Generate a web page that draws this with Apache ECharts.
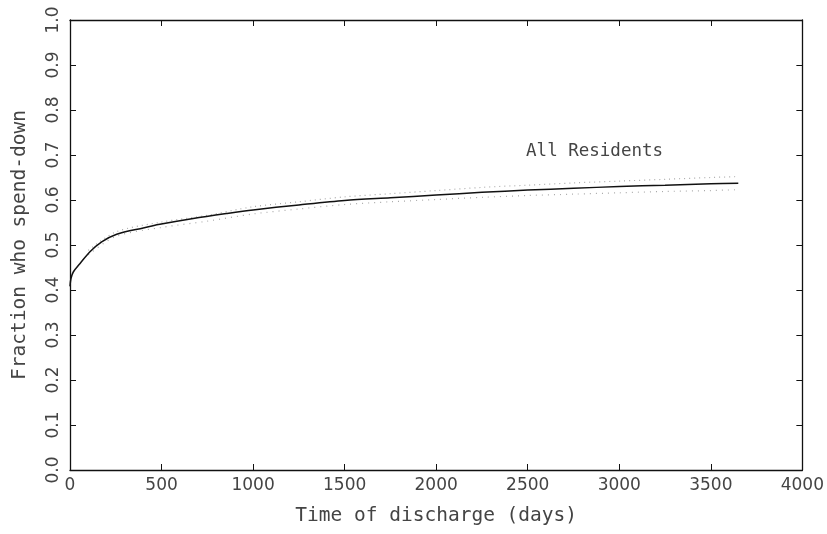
<!DOCTYPE html>
<html>
<head>
<meta charset="utf-8">
<script src="https://cdn.jsdelivr.net/npm/echarts@6/dist/echarts.min.js"></script>
<style>html,body{margin:0;padding:0;background:#fff;}#c{width:827px;height:534px;}</style>
</head>
<body>
<div id="c"></div>
<script>
// Main curve: days and fraction who spend-down
var days = [0, 5, 18, 55, 109, 173, 255, 400, 491, 673, 855, 1000, 1250, 1500, 1750, 2000, 2250, 2500, 2750, 3000, 3250, 3500, 3650];
var fraction = [0.408, 0.425, 0.44, 0.459, 0.485, 0.507, 0.524, 0.538, 0.546, 0.559, 0.570, 0.578, 0.589, 0.599, 0.605, 0.611, 0.617, 0.622, 0.626, 0.630, 0.633, 0.636, 0.637];
// Scatter band around curve (dotted)
var bandDays = [100, 250, 500, 750, 1000, 1250, 1500, 1750, 2000, 2250, 2500, 2750, 3000, 3250, 3500, 3650];
var bandUpper = [0.488, 0.529, 0.551, 0.566, 0.585, 0.596, 0.607, 0.614, 0.621, 0.628, 0.633, 0.638, 0.642, 0.646, 0.650, 0.652];
var bandLower = [0.478, 0.519, 0.539, 0.553, 0.569, 0.580, 0.590, 0.596, 0.601, 0.606, 0.610, 0.613, 0.616, 0.619, 0.621, 0.623];
var xTicks = [0, 500, 1000, 1500, 2000, 2500, 3000, 3500, 4000];
var yTicks = [0.0, 0.1, 0.2, 0.3, 0.4, 0.5, 0.6, 0.7, 0.8, 0.9, 1.0];
var seriesLabel = "All Residents";
var xTitle = "Time of discharge (days)";
var yTitle = "Fraction who spend-down";

function zip(a, b) { return a.map(function (v, i) { return [v, b[i]]; }); }

var chart = echarts.init(document.getElementById('c'));
var tickFont = { fontFamily: 'DejaVu Sans', fontSize: 17, color: '#444' };
var titleFont = { fontFamily: 'DejaVu Sans Mono', fontSize: 19.5, color: '#444' };
var axisLine = { show: true, onZero: false, lineStyle: { color: '#111', width: 1.3 } };
var axisTick = { show: true, inside: true, length: 6, lineStyle: { color: '#111', width: 1 } };

chart.setOption({
  backgroundColor: '#fff',
  animation: false,
  grid: { left: 70, right: 24, top: 20, bottom: 64 },
  xAxis: [{
    type: 'value', min: 0, max: 4000, interval: 500, position: 'bottom',
    axisLine: axisLine, axisTick: axisTick, splitLine: { show: false },
    axisLabel: Object.assign({ margin: 7, formatter: function (v) { return xTicks.indexOf(v) >= 0 ? String(v) : ''; } }, tickFont),
    name: xTitle, nameLocation: 'middle', nameGap: 36, nameTextStyle: titleFont
  }, {
    type: 'value', min: 0, max: 4000, interval: 500, position: 'top',
    axisLine: axisLine, axisTick: axisTick, splitLine: { show: false }, axisLabel: { show: false }
  }],
  yAxis: [{
    type: 'value', min: 0, max: 1, interval: 0.1, position: 'left',
    axisLine: axisLine, axisTick: axisTick, splitLine: { show: false },
    axisLabel: Object.assign({ rotate: 90, margin: 8, formatter: function (v) {
      var t = yTicks.find(function (k) { return Math.abs(k - v) < 1e-6; });
      return t === undefined ? '' : t.toFixed(1);
    } }, tickFont),
    name: yTitle, nameLocation: 'middle', nameGap: 40, nameTextStyle: titleFont
  }, {
    type: 'value', min: 0, max: 1, interval: 0.1, position: 'right',
    axisLine: axisLine, axisTick: axisTick, splitLine: { show: false }, axisLabel: { show: false }
  }],
  series: [{
    type: 'line', data: zip(bandDays, bandUpper), smooth: 0.3, symbol: 'none',
    lineStyle: { color: '#aaa', width: 1.2, type: [1, 4] }, z: 2
  }, {
    type: 'line', data: zip(bandDays, bandLower), smooth: 0.3, symbol: 'none',
    lineStyle: { color: '#aaa', width: 1.2, type: [1, 5] }, z: 2
  }, {
    type: 'line', data: zip(days, fraction), smooth: 0.3, symbol: 'none',
    lineStyle: { color: '#111', width: 1.5 }, z: 3,
    markPoint: {
      symbol: 'circle', symbolSize: 0,
      data: [{ coord: [2865, 0.708] }],
      label: { show: true, formatter: seriesLabel, position: 'inside', fontFamily: 'DejaVu Sans Mono', fontSize: 17.5, color: '#444' }
    }
  }]
});
</script>
</body>
</html>
